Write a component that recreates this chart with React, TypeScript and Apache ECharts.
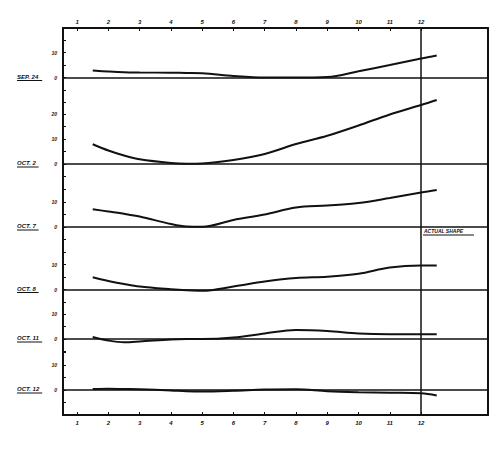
import React, { useEffect, useRef } from "react";
import * as echarts from "echarts";

// ---- data ----
const months = [1.5, 2, 2.5, 3, 4, 4.5, 5, 6, 7, 8, 9, 10, 11, 12, 12.5];
const sep24 = [2.8, 2.4, 2.1, 2.0, 1.9, 1.8, 1.7, 0.6, 0, 0, 0.2, 2.5, 5.0, 7.6, 8.8];
const oct2 = [7.9, 5.4, 3.4, 1.9, 0.4, 0.1, 0.2, 1.6, 4.0, 8.0, 11.3, 15.4, 19.8, 23.6, 25.6];
const oct7 = [7.1, 6.2, 5.3, 4.2, 1.2, 0.2, 0.1, 2.8, 5.0, 7.8, 8.6, 9.6, 11.6, 13.8, 14.8];
const oct8 = [4.9, 3.4, 2.2, 1.2, 0.1, -0.3, -0.5, 1.2, 3.2, 4.6, 5.1, 6.3, 8.8, 9.6, 9.6];
const oct11 = [0.8, -0.6, -1.3, -1.0, -0.2, 0, 0, 0.6, 2.2, 3.6, 3.2, 2.2, 1.9, 1.9, 1.9];
const oct12 = [0.4, 0.5, 0.4, 0.3, -0.2, -0.5, -0.6, -0.3, 0.2, 0.3, -0.5, -0.9, -1.1, -1.3, -2.2];
const seriesValues = [sep24, oct2, oct7, oct8, oct11, oct12];
const panelLabels = ["SEP. 24", "OCT. 2", "OCT. 7", "OCT. 8", "OCT. 11", "OCT. 12"];
const yLabelValues = [[0, 10], [0, 10, 20], [0, 10], [0, 10], [0, 10], [0, 10]];
const xTickLabels = [1, 2, 3, 4, 5, 6, 7, 8, 9, 10, 11, 12];
const referenceMonth = 12;
const noteText = "ACTUAL SHAPE";

// ---- layout ----
const W = 495;
const H = 456;
const LEFT = 63;
const RIGHT = 7;
const PX_PER_UNIT = 2.5;
const gridTops = [28, 113, 190, 252, 302, 352];
const gridBottoms = [113, 190, 252, 302, 352, 415];
const zeroYs = [77.5, 164, 227, 289.5, 339, 390];
const X_MIN = 0.55;
const X_MAX = 14.14;
const FONT = "Liberation Sans";

export default function App() {
  const ref = useRef<HTMLDivElement>(null);
  useEffect(() => {
    if (!ref.current) return;
    const chart = echarts.init(ref.current, null, { renderer: "svg" });

    const grids: any[] = [];
    const xAxes: any[] = [];
    const yAxes: any[] = [];
    const series: any[] = [];
    const graphics: any[] = [];
    const n = seriesValues.length;

    for (let i = 0; i < n; i++) {
      const top = gridTops[i];
      const bottom = gridBottoms[i];
      const max = (zeroYs[i] - top) / PX_PER_UNIT;
      const min = -(bottom - zeroYs[i]) / PX_PER_UNIT;
      const ticks: number[] = [];
      for (let v = Math.ceil(min / 5) * 5; v <= max; v += 5) ticks.push(v);

      grids.push({ left: LEFT, right: RIGHT, top, height: bottom - top });

      const isTop = i === 0;
      const isBottom = i === n - 1;
      xAxes.push({
        type: "value",
        gridIndex: i,
        min: X_MIN,
        max: X_MAX,
        show: isTop || isBottom,
        position: isTop ? "top" : "bottom",
        splitLine: { show: false },
        axisLine: { show: true, onZero: false, lineStyle: { color: "#111", width: 2 } },
        axisTick: {
          show: true,
          inside: true,
          length: 3,
          customValues: xTickLabels,
          lineStyle: { color: "#111", width: 1 },
        },
        axisLabel: {
          show: true,
          customValues: xTickLabels,
          fontFamily: FONT,
          fontSize: 6,
          fontWeight: "bold",
          fontStyle: "italic",
          color: "#111",
          margin: isTop ? 3 : 5,
        },
      });

      yAxes.push({
        type: "value",
        gridIndex: i,
        min,
        max,
        position: "left",
        splitLine: { show: false },
        axisLine: { show: true, lineStyle: { color: "#111", width: 2 } },
        axisTick: {
          show: true,
          inside: true,
          length: 3,
          customValues: ticks,
          lineStyle: { color: "#111", width: 1 },
        },
        axisLabel: {
          show: true,
          customValues: yLabelValues[i],
          fontFamily: FONT,
          fontSize: 5,
          fontWeight: "bold",
          fontStyle: "italic",
          color: "#111",
          margin: 6,
        },
      });

      const label = panelLabels[i];
      graphics.push({
        type: "text",
        left: 17,
        top: zeroYs[i] - 4,
        style: {
          text: label,
          fontFamily: FONT,
          fontSize: 6,
          fontWeight: "bold",
          fontStyle: "italic",
          fill: "#111",
        },
      });
      graphics.push({
        type: "line",
        shape: { x1: 17, y1: zeroYs[i] + 3, x2: 17 + label.length * 3.6, y2: zeroYs[i] + 3 },
        style: { stroke: "#111", lineWidth: 1 },
      });

      series.push({
        type: "line",
        name: label,
        xAxisIndex: i,
        yAxisIndex: i,
        data: months.map((m, k) => [m, seriesValues[i][k]]),
        smooth: 0.35,
        clip: false,
        showSymbol: false,
        lineStyle: { color: "#111", width: 2 },
        markLine: {
          silent: true,
          symbol: "none",
          label: { show: false },
          data: [
            { yAxis: 0, lineStyle: { color: "#111", width: 1.5, type: "solid" } },
            { xAxis: referenceMonth, lineStyle: { color: "#111", width: 1.5, type: "solid" } },
          ],
        },
      });
    }

    // right-hand frame edge
    for (let i = 0; i < n; i++) {
      yAxes.push({
        type: "value",
        gridIndex: i,
        min: yAxes[i].min,
        max: yAxes[i].max,
        position: "right",
        splitLine: { show: false },
        axisLine: { show: true, lineStyle: { color: "#111", width: 2 } },
        axisTick: { show: false },
        axisLabel: { show: false },
      });
    }

    graphics.push({
      type: "text",
      left: 424,
      top: 228,
      style: {
        text: noteText,
        fontFamily: FONT,
        fontSize: 5,
        fontWeight: "bold",
        fontStyle: "italic",
        fill: "#111",
      },
    });
    graphics.push({
      type: "line",
      shape: { x1: 423, y1: 235, x2: 474, y2: 235 },
      style: { stroke: "#111", lineWidth: 1 },
    });

    chart.setOption({
      animation: false,
      backgroundColor: "#ffffff",
      grid: grids,
      xAxis: xAxes,
      yAxis: yAxes,
      series,
      graphic: graphics,
    });
    return () => chart.dispose();
  }, []);

  return (
    <div
      ref={ref}
      style={{ position: "absolute", left: 0, top: 0, width: W, height: H }}
    />
  );
}
